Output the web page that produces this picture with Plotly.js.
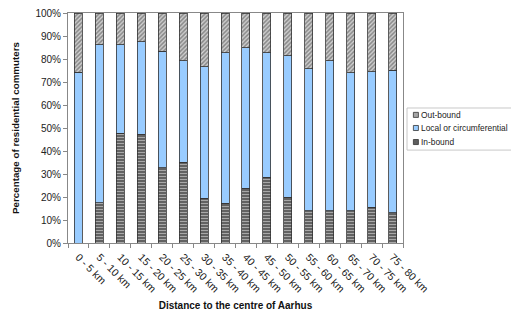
<!DOCTYPE html>
<html>
<head>
<meta charset="utf-8">
<script src="https://cdn.plot.ly/plotly-3.0.1.min.js"></script>
<style>html,body{margin:0;padding:0;background:#fff;}#chart{width:511px;height:318px;}</style>
</head>
<body>
<div id="chart"></div>
<script>
const categories = ["0 - 5 km","5 - 10 km","10 - 15 km","15 - 20 km","20 - 25 km","25 - 30 km","30 - 35 km","35 - 40 km","40 - 45 km","45 - 50 km","50 - 55 km","55 - 60 km","60 - 65 km","65 - 70 km","70 - 75 km","75 - 80 km"];
const inBound = [0, 17.6, 47.8, 47.3, 32.8, 35.1, 19.4, 17.2, 23.7, 28.5, 19.8, 14.1, 14.0, 14.1, 15.5, 13.1];
const localCirc = [74.3, 68.7, 38.5, 40.2, 50.6, 44.2, 57.2, 65.6, 61.3, 54.3, 61.6, 61.6, 65.2, 60.0, 59.0, 62.0];
const outBound = [25.7, 13.7, 13.7, 12.5, 16.6, 20.7, 23.4, 17.2, 15.0, 17.2, 18.6, 24.3, 20.8, 25.9, 25.5, 24.9];
const seriesNames = ["In-bound", "Local or circumferential", "Out-bound"];
const yTicks = [0,10,20,30,40,50,60,70,80,90,100];
const yTickText = yTicks.map(v => v + "%");

const line = {color: "#333333", width: 0.8};
const markers = [
  {color: "#6e6e6e", line: line, pattern: {shape: "-", fgcolor: "#a8a8a8", bgcolor: "#5a5a5a", size: 3, solidity: 0.4}},
  {color: "#99ccff", line: line},
  {color: "#a0a0a0", line: line, pattern: {shape: "/", fgcolor: "#d8d8d8", bgcolor: "#8c8c8c", size: 3, solidity: 0.4}}
];
const legendFill = ["#5e5e5e", "#99ccff", "#a6a6a6"];
const values = [inBound, localCirc, outBound];
const traces = values.map((v, i) => ({type: "bar", name: seriesNames[i], x: categories, y: v, marker: markers[i], showlegend: false}));

// custom compact legend (Out-bound on top)
const shapes = [{type: "rect", xref: "paper", yref: "paper", x0: 1.012, x1: 1.34, y0: 0.404, y1: 0.587,
                 line: {color: "#c8c8c8", width: 1}, fillcolor: "#ffffff"}];
const annotations = [];
const itemY = [0.439, 0.5, 0.557];
seriesNames.forEach((n, i) => {
  shapes.push({type: "rect", xref: "paper", yref: "paper", x0: 1.031, x1: 1.046, y0: itemY[i] - 0.011, y1: itemY[i] + 0.011,
               line: {color: "#333", width: 0.8}, fillcolor: legendFill[i]});
  annotations.push({xref: "paper", yref: "paper", x: 1.047, y: itemY[i], xanchor: "left", yanchor: "middle",
                    text: n, showarrow: false, font: {size: 8.4, color: "#222"}});
});

const layout = {
  width: 511, height: 318,
  barmode: "stack", bargap: 0.62,
  margin: {l: 68, r: 108, t: 13, b: 75},
  paper_bgcolor: "#fff", plot_bgcolor: "#fff",
  font: {family: "Liberation Sans, Arial, sans-serif", size: 9, color: "#222"},
  showlegend: false,
  shapes: shapes, annotations: annotations,
  xaxis: {type: "category", tickangle: 45, ticks: "outside", tickson: "boundaries", ticklen: 4,
          tickcolor: "#888", showline: true, linecolor: "#888", mirror: true, linewidth: 1,
          ticklabelstandoff: 3,
          tickfont: {size: 10.5, color: "#222"},
          title: {text: "<b>Distance to the centre of Aarhus</b>", font: {size: 10, color: "#111"}, standoff: 8}},
  yaxis: {range: [0, 100], tickvals: yTicks, ticktext: yTickText, ticks: "outside", ticklen: 4,
          tickcolor: "#888", showline: true, linecolor: "#888", mirror: true, linewidth: 1,
          showgrid: false, zeroline: false, tickfont: {size: 10, color: "#222"},
          title: {text: "<b>Percentage of residential commuters</b>", font: {size: 9.8, color: "#111"}, standoff: 13}}
};
Plotly.newPlot("chart", traces, layout, {displayModeBar: false, staticPlot: true});
</script>
</body>
</html>
